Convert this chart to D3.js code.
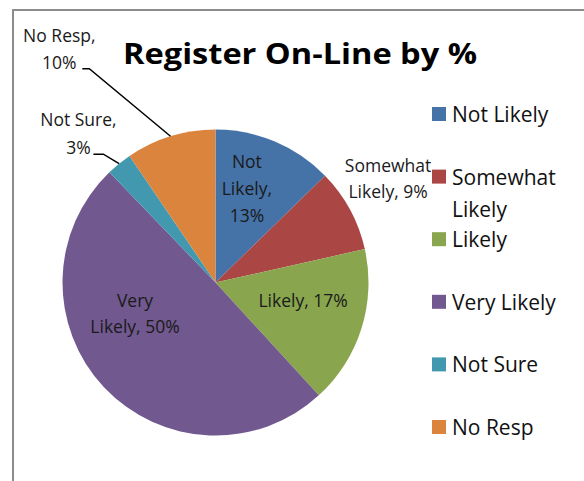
<!DOCTYPE html>
<html>
<head>
<meta charset="utf-8">
<script src="https://cdn.jsdelivr.net/npm/d3@7"></script>
<style>
  body { margin: 0; background: #fff; }
  svg { display: block; font-family: "Open Sans", Lato, sans-serif; }
</style>
</head>
<body>
<svg id="chart" width="584" height="481"></svg>
<script>
var categories = ['Not Likely', 'Somewhat Likely', 'Likely', 'Very Likely', 'Not Sure', 'No Resp'];
var values = [12.7, 8.8, 16.7, 49.6, 2.7, 9.5];
var colors = ['#4572A7', '#AA4643', '#89A54E', '#71588F', '#4198AF', '#DB843D'];
// data label text, one line per entry
var labelLines = [['Not', 'Likely,', '13%'], ['Somewhat', 'Likely, 9%'], ['Likely, 17%'],
                  ['Very', 'Likely, 50%'], ['Not Sure,', '3%'], ['No Resp,', '10%']];
// legend text, wrapped as in the picture
var legendLines = [['Not Likely'], ['Somewhat', 'Likely'], ['Likely'], ['Very Likely'], ['Not Sure'], ['No Resp']];

var cx = 215.5, cy = 282.5, r = 153;
// label placement: radius factor and angle shift (degrees) from slice middle
var labelRad = [0.644, 1.315, 0.585, 0.565, 1.32, 1.835];
var labelShift = [-4.3, -2.5, -5.5, 21.8, -3.7, -16.7];
var lineH = [27, 26, 26, 26, 28, 27];
// leader line offsets (start, end of the short horizontal) from label centre
var leaderX = [null, null, null, null, [15, 25], [23, 30]];

var svg = d3.select('#chart');

// frame
svg.append('path')
    .attr('d', 'M13,481 L13,10 L584,10')
    .attr('fill', 'none')
    .attr('stroke', '#8c8c8c')
    .attr('stroke-width', 2);

svg.append('text')
    .attr('x', 300).attr('y', 64)
    .attr('text-anchor', 'middle')
    .attr('font-size', 28)
    .attr('font-weight', 'bold')
    .attr('textLength', 354)
    .attr('lengthAdjust', 'spacingAndGlyphs')
    .attr('fill', '#000')
    .text('Register On-Line by %');

var pie = d3.pie().sort(null).value(function(d) { return d; });
var arcs = pie(values);
var arc = d3.arc().innerRadius(0).outerRadius(r);

var g = svg.append('g').attr('transform', 'translate(' + cx + ',' + cy + ')');

g.selectAll('path.slice')
    .data(arcs)
    .enter()
    .append('path')
    .attr('class', 'slice')
    .attr('d', arc)
    .attr('fill', function(d, i) { return colors[i]; });

var deg = Math.PI / 180;
var labelPos = function(d, i) {
    var a = (d.startAngle + d.endAngle) / 2 + labelShift[i] * deg;
    var rr = r * labelRad[i];
    return [rr * Math.sin(a), -rr * Math.cos(a)];
};

// leader lines for the outside labels
arcs.forEach(function(d, i) {
    if (!leaderX[i]) return;
    var a = (d.startAngle + d.endAngle) / 2;
    var p0 = [r * Math.sin(a), -r * Math.cos(a)];
    var p = labelPos(d, i);
    var n = labelLines[i].length;
    var yb = p[1] + (n - 1) * lineH[i] / 2 + 6;
    var p1 = [p[0] + leaderX[i][1], yb];
    var p2 = [p[0] + leaderX[i][0], yb];
    g.append('path')
        .attr('d', 'M' + p0 + 'L' + p1 + 'L' + p2)
        .attr('fill', 'none')
        .attr('stroke', '#000')
        .attr('stroke-width', 1.5);
});

var labels = g.selectAll('text.lbl')
    .data(arcs)
    .enter()
    .append('text')
    .attr('class', 'lbl')
    .attr('text-anchor', 'middle')
    .attr('font-size', 17.5)
    .attr('fill', '#1a1a1a')
    .attr('transform', function(d, i) { return 'translate(' + labelPos(d, i) + ')'; });

labels.each(function(d, i) {
    var n = labelLines[i].length;
    d3.select(this).selectAll('tspan')
        .data(labelLines[i])
        .enter()
        .append('tspan')
        .attr('x', 0)
        .attr('y', function(t, j) { return (j - (n - 1) / 2) * lineH[i] + 6; })
        .text(function(t) { return t; });
});

// legend
var legendY = d3.scalePoint().domain(categories).range([122, 435]);
var legend = svg.selectAll('g.leg')
    .data(categories)
    .enter()
    .append('g')
    .attr('class', 'leg')
    .attr('transform', function(c) { return 'translate(432,' + legendY(c) + ')'; });

legend.append('rect')
    .attr('x', 0).attr('y', -15)
    .attr('width', 14).attr('height', 14)
    .attr('fill', function(c, i) { return colors[i]; });

legend.each(function(c, i) {
    d3.select(this).selectAll('text')
        .data(legendLines[i])
        .enter()
        .append('text')
        .attr('x', 20)
        .attr('y', function(t, j) { return j * 32; })
        .attr('font-size', 21)
        .attr('fill', '#111')
        .text(function(t) { return t; });
});
</script>
</body>
</html>
